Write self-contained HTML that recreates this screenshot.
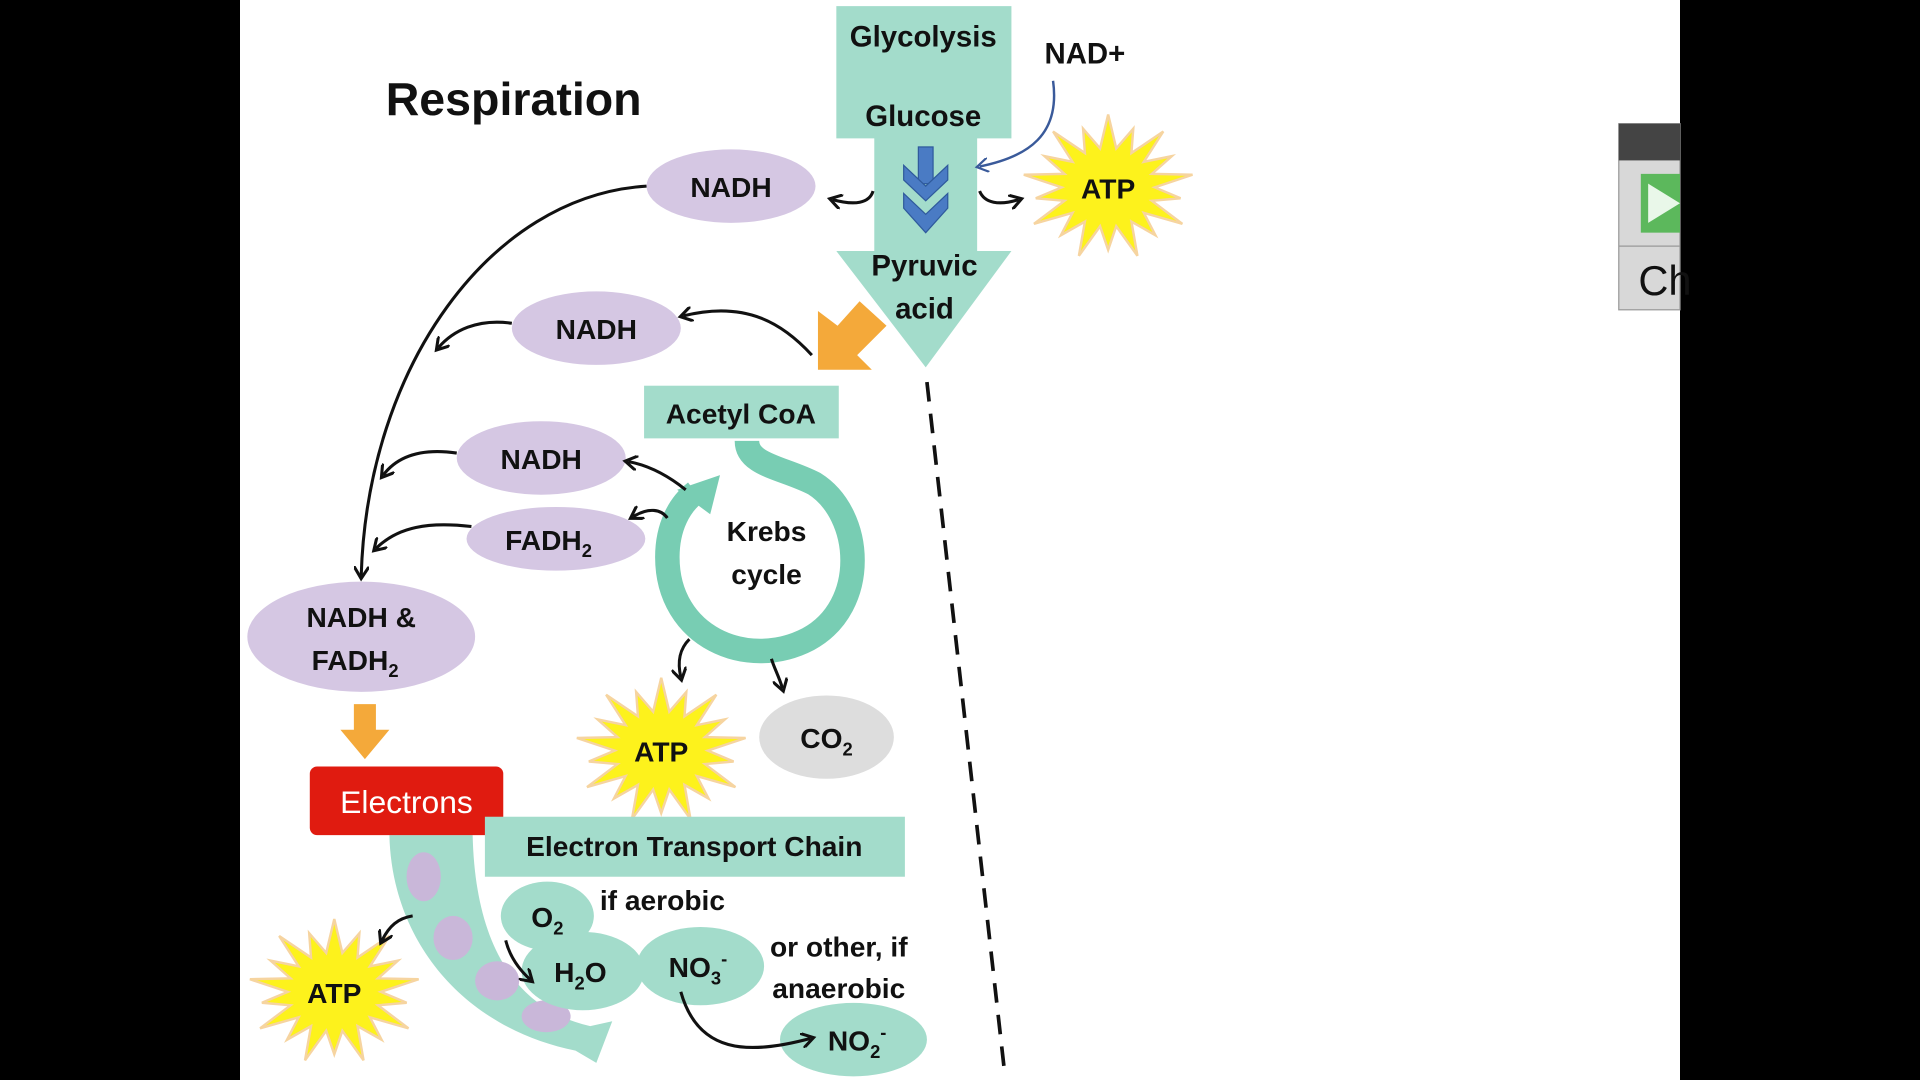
<!DOCTYPE html>
<html><head><meta charset="utf-8"><style>
html,body{margin:0;padding:0;background:#000;width:1920px;height:1080px;overflow:hidden}
svg{display:block}
text{font-family:"Liberation Sans",sans-serif;font-weight:bold;fill:#111}
</style></head><body>
<svg id="s" width="1920" height="1080" viewBox="0 0 1568 882" xmlns="http://www.w3.org/2000/svg">
<defs>
<marker id="ah" viewBox="0 0 10 10" refX="6" refY="5" markerWidth="5" markerHeight="5" orient="auto"><path d="M0,0 L8,5 L0,10" fill="none" stroke="#111" stroke-width="2"/></marker>
<marker id="ahb" viewBox="0 0 10 10" refX="6" refY="5" markerWidth="6" markerHeight="6" orient="auto"><path d="M0,0 L8,5 L0,10" fill="none" stroke="#3a5a9a" stroke-width="1.5"/></marker>
</defs>
<rect x="0" y="0" width="1568" height="882" fill="#000"/>
<rect x="196" y="0" width="1176" height="882" fill="#fff"/>
<g>
<rect x="1322" y="101" width="50" height="152" fill="#d8d8d8" stroke="#999"/>
<rect x="1322" y="101" width="50" height="30" fill="#444"/>
<line x1="1322" y1="201" x2="1372" y2="201" stroke="#999"/>
<rect x="1340" y="142" width="32" height="48" fill="#5cb85c"/>
<polygon points="1346,150 1372,166 1346,182" fill="#e9f7e9"/>
<text x="1338" y="241" style="font-weight:normal;font-size:34px" fill="#333">Ch</text>
</g>
<text x="315" y="94" font-size="38">Respiration</text>

<g>
<path d="M683,5 H826 V113 H798 V205 H826 L756,300 L683,205 H714 V113 H683 Z" fill="#a3dccb"/>
<text x="754" y="38" font-size="24" text-anchor="middle">Glycolysis</text>
<text x="754" y="103" font-size="24" text-anchor="middle">Glucose</text>
<text x="755" y="225" font-size="24" text-anchor="middle">Pyruvic</text>
<text x="755" y="260" font-size="24" text-anchor="middle">acid</text>
<g fill="#4a7bc4" stroke="#2f5a9c" stroke-width="1">
<rect x="750" y="120" width="12" height="30"/>
<path d="M738,135 L756,152 L774,135 V147 L756,164 L738,147Z"/>
<path d="M738,158 L756,175 L774,158 V170 L756,190 L738,170Z"/>
</g>
</g>
<text x="886" y="52" font-size="24" text-anchor="middle">NAD+</text>
<path d="M860,66 C866,110 840,128 800,136" fill="none" stroke="#3a5a9a" stroke-width="2" marker-end="url(#ahb)"/>

<g id="stars"></g>

<g fill="#d5c7e3">
<ellipse cx="597" cy="152" rx="69" ry="30"/>
<ellipse cx="487" cy="268" rx="69" ry="30"/>
<ellipse cx="442" cy="374" rx="69" ry="30"/>
<ellipse cx="454" cy="440" rx="73" ry="26"/>
<ellipse cx="295" cy="520" rx="93" ry="45"/>
</g>
<text x="597" y="161" font-size="23" text-anchor="middle">NADH</text>
<text x="487" y="277" font-size="23" text-anchor="middle">NADH</text>
<text x="442" y="383" font-size="23" text-anchor="middle">NADH</text>
<text x="448" y="449" font-size="23" text-anchor="middle">FADH<tspan font-size="15" dy="6">2</tspan></text>
<text x="295" y="512" font-size="23" text-anchor="middle">NADH &amp;</text>
<text x="290" y="547" font-size="23" text-anchor="middle">FADH<tspan font-size="15" dy="6">2</tspan></text>

<path d="M724,266 L702,246 L684,266 L668,254 L668,302 L712,302 L700,290 Z" fill="#f4a93a"/>
<path d="M289,575 H307 V596 H318 L298,620 L278,596 H289 Z" fill="#f4a93a"/>

<rect x="526" y="315" width="159" height="43" fill="#a3dccb"/>
<text x="605" y="346" font-size="23" text-anchor="middle">Acetyl CoA</text>
<g>
<path d="M610,360 C610,380 640,382 665,395 C705,420 710,495 660,522 C610,548 545,520 545,455 C545,430 555,412 568,402" fill="none" stroke="#78cdb3" stroke-width="20"/>
<polygon points="553,400 588,388 580,420" fill="#78cdb3"/>
<text x="626" y="442" font-size="23" text-anchor="middle">Krebs</text>
<text x="626" y="477" font-size="23" text-anchor="middle">cycle</text>
</g>
<ellipse cx="675" cy="602" rx="55" ry="34" fill="#ddd"/>
<text x="675" y="611" font-size="23" text-anchor="middle">CO<tspan font-size="15" dy="6">2</tspan></text>

<g>
<path d="M318,682 C320,770 380,840 470,858 L487,868 L500,834 L482,838 C420,824 388,770 386,682 Z" fill="#a3dccb"/>
<g fill="#c9b7d9">
<ellipse cx="346" cy="716" rx="14" ry="20"/>
<ellipse cx="370" cy="766" rx="16" ry="18"/>
<ellipse cx="406" cy="801" rx="18" ry="16"/>
<ellipse cx="446" cy="830" rx="20" ry="13"/>
</g>
</g>
<rect x="253" y="626" width="158" height="56" rx="6" fill="#e01b10"/>
<text x="332" y="664" font-size="26" text-anchor="middle" style="font-weight:normal;fill:#fff">Electrons</text>
<rect x="396" y="667" width="343" height="49" fill="#a3dccb"/>
<text x="567" y="699" font-size="23" text-anchor="middle">Electron Transport Chain</text>
<g fill="#a3dccb">
<ellipse cx="447" cy="748" rx="38" ry="28"/>
<ellipse cx="476" cy="793" rx="50" ry="32"/>
<ellipse cx="572" cy="789" rx="52" ry="32"/>
<ellipse cx="697" cy="849" rx="60" ry="30"/>
</g>
<text x="447" y="757" font-size="23" text-anchor="middle">O<tspan font-size="15" dy="6">2</tspan></text>
<text x="474" y="802" font-size="23" text-anchor="middle">H<tspan font-size="15" dy="6">2</tspan><tspan dy="-6">O</tspan></text>
<text x="570" y="798" font-size="23" text-anchor="middle">NO<tspan font-size="15" dy="6">3</tspan><tspan font-size="15" dy="-16">-</tspan></text>
<text x="700" y="858" font-size="23" text-anchor="middle">NO<tspan font-size="15" dy="6">2</tspan><tspan font-size="15" dy="-16">-</tspan></text>
<text x="541" y="743" font-size="23" text-anchor="middle">if aerobic</text>
<text x="685" y="781" font-size="23" text-anchor="middle">or other, if</text>
<text x="685" y="815" font-size="23" text-anchor="middle">anaerobic</text>
<line x1="757" y1="312" x2="820" y2="872" stroke="#111" stroke-width="3" stroke-dasharray="16,10"/>

<g fill="none" stroke="#111" stroke-width="2.5" marker-end="url(#ah)">
<path d="M528,152 C400,160 300,300 295,470"/>
<path d="M418,264 C390,260 370,270 358,284"/>
<path d="M373,370 C345,366 325,372 313,388"/>
<path d="M385,430 C350,426 325,430 307,448"/>
<path d="M713,156 C710,166 698,168 680,163"/>
<path d="M800,156 C804,166 816,168 832,163"/>
<path d="M663,290 C640,265 610,245 558,258"/>
<path d="M560,400 C545,388 530,380 513,377"/>
<path d="M545,423 C540,416 530,414 517,422"/>
<path d="M563,522 C555,530 553,540 556,553"/>
<path d="M630,538 C632,545 636,552 639,562"/>
<path d="M337,748 C325,750 318,756 312,768"/>
<path d="M413,768 C416,780 422,790 433,800"/>
<path d="M556,810 C570,860 610,862 662,848"/>
</g>
</svg>
<script>
const starCenters=[[905,153,'atp-star-glycolysis'],[540,613,'atp-star-krebs'],[273,810,'atp-star-etc']];
const g=document.getElementById('stars');
starCenters.forEach(([cx,cy,nm])=>{
  const pts=[];const n=18;
  for(let i=0;i<n*2;i++){const a=Math.PI*i/n-Math.PI/2;const r=i%2?38:(i%4?60:70);pts.push((cx+r*Math.cos(a)).toFixed(1)+','+(cy+r*0.85*Math.sin(a)).toFixed(1));}
  const p=document.createElementNS('http://www.w3.org/2000/svg','polygon');
  p.setAttribute('points',pts.join(' '));p.setAttribute('fill','#fdf21c');p.setAttribute('stroke','#f6d4a0');p.setAttribute('stroke-width','2');
  
  
  g.appendChild(p);
  const t=document.createElementNS('http://www.w3.org/2000/svg','text');
  t.setAttribute('x',cx);t.setAttribute('y',cy+9);t.setAttribute('font-size','23');t.setAttribute('text-anchor','middle');t.textContent='ATP';
  
  
  g.appendChild(t);
});
</script>
</body></html>
